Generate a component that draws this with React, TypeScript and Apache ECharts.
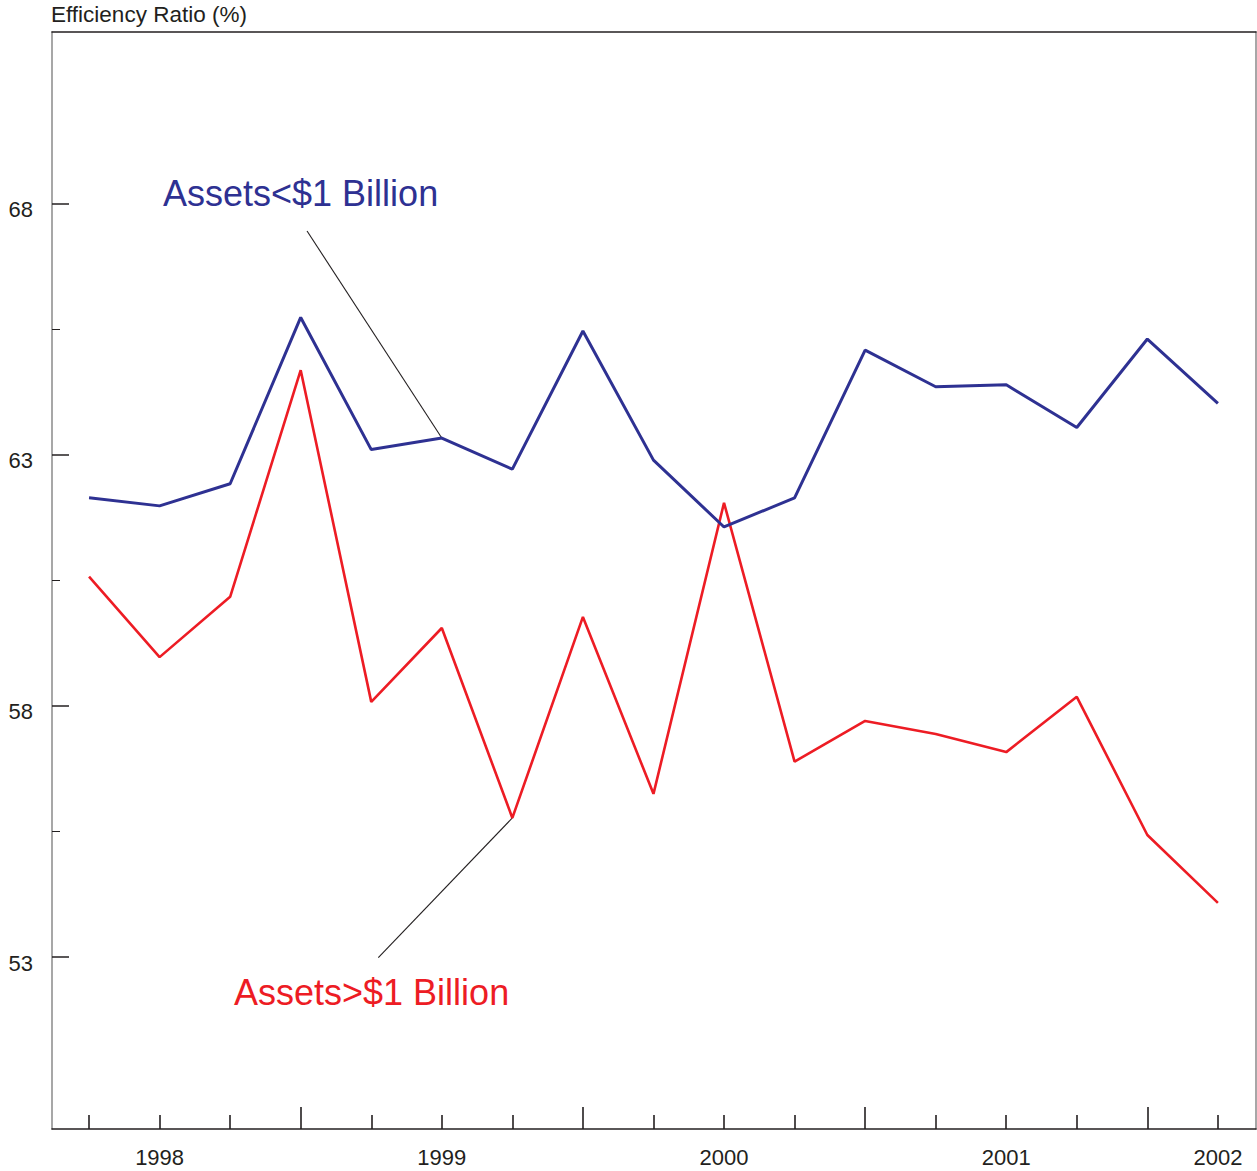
import React, { useEffect, useRef } from "react";
import * as echarts from "echarts";

const xTickLabels = ["", "1998", "", "", "", "1999", "", "", "", "2000", "", "", "", "2001", "", "", "2002"];
const majorTickIdx = [3, 7, 11, 15];
const minorTickIdx = [0, 1, 2, 4, 5, 6, 8, 9, 10, 12, 13, 14, 16];
const labelIdx = [1, 5, 9, 13, 16];

const smallBanks = [62.14, 61.98, 62.42, 65.73, 63.10, 63.33, 62.71, 65.46, 62.89, 61.56, 62.14, 65.08, 64.35, 64.39, 63.54, 65.30, 64.02];
const largeBanks = [60.57, 58.97, 60.17, 64.68, 58.08, 59.55, 55.77, 59.77, 56.25, 62.04, 56.89, 57.70, 57.44, 57.08, 58.18, 55.43, 54.08];

const yTicks = [53, 58, 63, 68];
const yMinorTicks = [55.5, 60.5, 65.5];

const smallLabel = "Assets<$1 Billion";
const largeLabel = "Assets>$1 Billion";
const smallLeaderFrom = [3.09, 67.45];
const smallLeaderIdx = 5;
const largeLeaderFrom = [4.1, 52.99];
const largeLeaderIdx = 6;

const BLUE = "#2e3192";
const RED = "#ed1c24";
const DARK = "#231f20";
const GRAY = "#8a8a8a";
const FONT = "'Liberation Sans', Arial, Helvetica, sans-serif";

const X_MIN = -0.525;
const X_MAX = 16.54;
const Y_MIN = 49.58;
const Y_MAX = 71.41;

export default function App() {
  const ref = useRef<HTMLDivElement>(null);
  useEffect(() => {
    if (!ref.current) return;
    const chart = echarts.init(ref.current, undefined, { renderer: "svg" });
    const baseX = { type: "value", min: X_MIN, max: X_MAX, splitLine: { show: false } };
    const baseY = { type: "value", min: Y_MIN, max: Y_MAX, splitLine: { show: false } };
    chart.setOption({
      animation: false,
      backgroundColor: "#ffffff",
      grid: { left: 52, right: 1, top: 32, bottom: 42, containLabel: false },
      title: {
        text: "Efficiency Ratio (%)",
        left: 51,
        top: 3,
        padding: 0,
        textStyle: { fontFamily: FONT, fontSize: 22.5, fontWeight: "normal", color: DARK },
      },
      xAxis: [
        {
          ...baseX,
          position: "bottom",
          axisLine: { show: true, onZero: false, lineStyle: { color: DARK, width: 1.5 } },
          axisTick: { show: true, inside: true, length: 14, customValues: minorTickIdx, lineStyle: { color: DARK, width: 1.6 } },
          axisLabel: {
            show: true,
            customValues: labelIdx,
            margin: 17,
            fontFamily: FONT,
            fontSize: 22,
            color: DARK,
            formatter: (v: number) => xTickLabels[Math.round(v)] || "",
          },
        },
        {
          ...baseX,
          position: "bottom",
          axisLine: { show: false, onZero: false },
          axisTick: { show: true, inside: true, length: 22, customValues: majorTickIdx, lineStyle: { color: DARK, width: 1.6 } },
          axisLabel: { show: false },
        },
        {
          ...baseX,
          position: "top",
          axisLine: { show: true, onZero: false, lineStyle: { color: DARK, width: 1.5 } },
          axisTick: { show: false },
          axisLabel: { show: false },
        },
      ],
      yAxis: [
        {
          ...baseY,
          position: "left",
          axisLine: { show: true, onZero: false, lineStyle: { color: GRAY, width: 1.5 } },
          axisTick: { show: true, inside: true, length: 17, customValues: yTicks, lineStyle: { color: DARK, width: 1.5 } },
          axisLabel: {
            show: true,
            customValues: yTicks,
            margin: 19,
            verticalAlign: "top",
            lineHeight: 12,
            fontFamily: FONT,
            fontSize: 22,
            color: DARK,
          },
        },
        {
          ...baseY,
          position: "left",
          axisLine: { show: false, onZero: false },
          axisTick: { show: true, inside: true, length: 8, customValues: yMinorTicks, lineStyle: { color: DARK, width: 1 } },
          axisLabel: { show: false },
        },
        {
          ...baseY,
          position: "right",
          axisLine: { show: true, onZero: false, lineStyle: { color: GRAY, width: 1.5 } },
          axisTick: { show: false },
          axisLabel: { show: false },
        },
      ],
      series: [
        {
          type: "line",
          name: largeLabel,
          data: largeBanks.map((v, i) => [i, v]),
          symbol: "none",
          lineStyle: { color: RED, width: 2.6 },
          itemStyle: { color: RED },
          z: 3,
        },
        {
          type: "line",
          name: smallLabel,
          data: smallBanks.map((v, i) => [i, v]),
          symbol: "none",
          lineStyle: { color: BLUE, width: 3 },
          itemStyle: { color: BLUE },
          z: 4,
        },
        {
          type: "line",
          data: [smallLeaderFrom, [smallLeaderIdx, smallBanks[smallLeaderIdx]]],
          symbol: "none",
          silent: true,
          lineStyle: { color: DARK, width: 1.1 },
          z: 2,
        },
        {
          type: "line",
          data: [largeLeaderFrom, [largeLeaderIdx, largeBanks[largeLeaderIdx]]],
          symbol: "none",
          silent: true,
          lineStyle: { color: DARK, width: 1.1 },
          z: 2,
        },
      ],
      graphic: [
        {
          type: "text",
          left: 163,
          top: 175,
          style: { text: smallLabel, fill: BLUE, fontFamily: FONT, fontSize: 36 },
        },
        {
          type: "text",
          left: 234,
          top: 974,
          style: { text: largeLabel, fill: RED, fontFamily: FONT, fontSize: 36 },
        },
      ],
    });
    return () => chart.dispose();
  }, []);
  return (
    <div
      ref={ref}
      style={{ position: "absolute", left: 0, top: 0, width: 1257, height: 1171, background: "#fff" }}
    />
  );
}
